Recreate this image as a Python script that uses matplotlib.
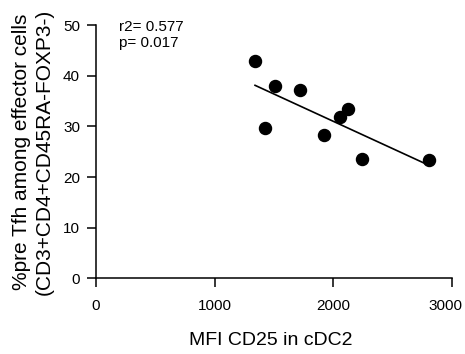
import numpy as np
import matplotlib
matplotlib.use("Agg")
import matplotlib.pyplot as plt
from matplotlib.transforms import ScaledTranslation

plt.rcParams['font.family'] = ['Liberation Sans', 'DejaVu Sans']

# MFI CD25 in cDC2 vs % pre Tfh
mfi_cd25 = [1341, 1509, 1721, 1427, 1923, 2057, 2127, 2239, 2807]
pre_tfh = [42.9, 38.0, 37.2, 29.6, 28.4, 31.8, 33.5, 23.5, 23.4]
x_ticks = [0, 1000, 2000, 3000]
y_ticks = [0, 10, 20, 30, 40, 50]
stats_text = "r2= 0.577\np= 0.017"

fig = plt.figure(figsize=(4.65, 3.54), dpi=100)
ax = fig.add_axes([0.2065, 0.2138, 0.765, 0.7152])

x = np.array(mfi_cd25, dtype=float)
y = np.array(pre_tfh, dtype=float)
slope, icpt = np.polyfit(x, y, 1)
xl = np.array([x.min(), x.max()])
ax.plot(xl, slope * xl + icpt, color='black', lw=1.2, zorder=2)
ax.scatter(x, y, s=75, color='black', zorder=3, clip_on=False)

ax.set_xlim(0, 3000)
ax.set_ylim(0, 50)
ax.set_xticks(x_ticks)
ax.set_yticks(y_ticks)
for s in ['top', 'right']:
    ax.spines[s].set_visible(False)
for s in ['left', 'bottom']:
    ax.spines[s].set_linewidth(1.1)
ax.tick_params(axis='y', direction='out', length=6.5, width=1.1, labelsize=11, pad=5)
ax.tick_params(axis='x', direction='out', length=6.5, width=1.1, labelsize=11, pad=8.3)

ax.set_xlabel("MFI CD25 in cDC2", fontsize=14)
ax.xaxis.set_label_coords(0.49, -0.212)
ax.set_ylabel("%pre Tfh among effector cells\n(CD3+CD4+CD45RA-FOXP3-)",
              fontsize=15, linespacing=1.3)
ax.yaxis.set_label_coords(-0.118, 0.5)

ax.text(193, 51.0, stats_text, fontsize=11, va='top', ha='left', linespacing=1.2)

# last x tick label sits a bit left of its tick
lab = ax.xaxis.get_major_ticks()[-1].label1
lab.set_transform(lab.get_transform() + ScaledTranslation(-6 / 100, 0, fig.dpi_scale_trans))

fig.savefig("out.png", dpi=100)
